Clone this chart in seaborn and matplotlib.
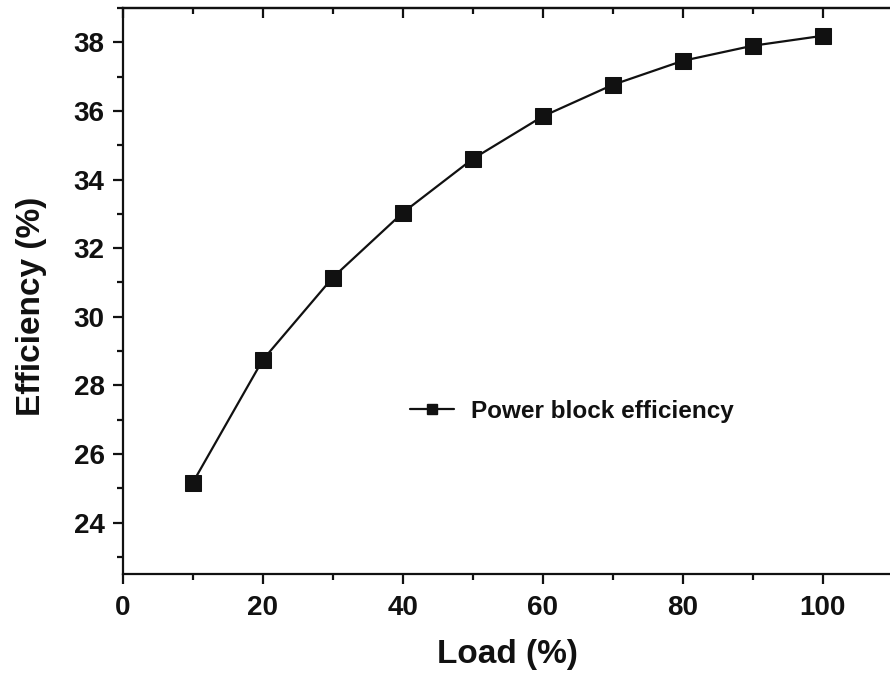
import matplotlib
matplotlib.use('Agg')
import matplotlib.pyplot as plt
import seaborn as sns
import pandas as pd
from matplotlib.ticker import MultipleLocator

# dados
carga = [10, 20, 30, 40, 50, 60, 70, 80, 90, 100]
eficiencia = [25.16, 28.74, 31.14, 33.03, 34.60, 35.84, 36.76, 37.46, 37.90, 38.19]
serie = 'Power block efficiency'

df = pd.DataFrame({'Load': carga, 'Efficiency': eficiencia, 'Serie': serie})

PRETO = '#111111'
sns.set_style("ticks")
plt.rcParams['font.family'] = ['Liberation Sans', 'DejaVu Sans']
plt.rcParams['font.weight'] = 'bold'
plt.rcParams['text.color'] = PRETO
plt.rcParams['axes.labelcolor'] = PRETO
plt.rcParams['xtick.color'] = PRETO
plt.rcParams['ytick.color'] = PRETO

fig = plt.figure(figsize=(8.9, 6.75), dpi=100)
ax = fig.add_axes([0.1379, 0.1496, 0.865, 0.8385])

sns.lineplot(data=df, x='Load', y='Efficiency', hue='Serie', palette=[PRETO],
             marker='s', markersize=11.5, markeredgecolor=PRETO,
             linewidth=1.6, ax=ax, legend=False)

ax.set_xlim(0, 110)
ax.set_ylim(22.5, 39)
ax.xaxis.set_major_locator(MultipleLocator(20))
ax.xaxis.set_minor_locator(MultipleLocator(10))
ax.yaxis.set_major_locator(MultipleLocator(2))
ax.yaxis.set_minor_locator(MultipleLocator(1))

for s in ax.spines.values():
    s.set_linewidth(1.6)
    s.set_color(PRETO)

ax.tick_params(which='both', width=1.6, direction='out')
ax.tick_params(which='major', length=7, labelsize=20)
ax.tick_params(axis='x', which='major', pad=8)
ax.tick_params(axis='y', which='major', pad=6)
ax.tick_params(which='minor', length=4)
for lbl in ax.get_xticklabels() + ax.get_yticklabels():
    lbl.set_fontweight('bold')

# eixo de cima com ticks para dentro
topo = ax.secondary_xaxis('top')
topo.xaxis.set_major_locator(MultipleLocator(20))
topo.xaxis.set_minor_locator(MultipleLocator(10))
topo.tick_params(which='both', direction='in', width=1.6, labeltop=False)
topo.tick_params(which='major', length=7)
topo.tick_params(which='minor', length=4)
topo.spines['top'].set_linewidth(1.6)

ax.set_xlabel('Load (%)', fontsize=24, fontweight='bold', labelpad=13)
ax.set_ylabel('Efficiency (%)', fontsize=24, fontweight='bold')
ax.yaxis.set_label_coords(-0.098, 0.473)

h, = ax.plot([], [], color=PRETO, marker='s', markersize=7, linewidth=1.6, label=serie)
ax.legend(handles=[h], loc='center left', bbox_to_anchor=(0.373, 0.288), frameon=False,
          borderaxespad=0, borderpad=0, handlelength=1.8, handletextpad=0.7,
          prop={'size': 17.5, 'weight': 'bold'})

plt.savefig('out.png', dpi=100)
